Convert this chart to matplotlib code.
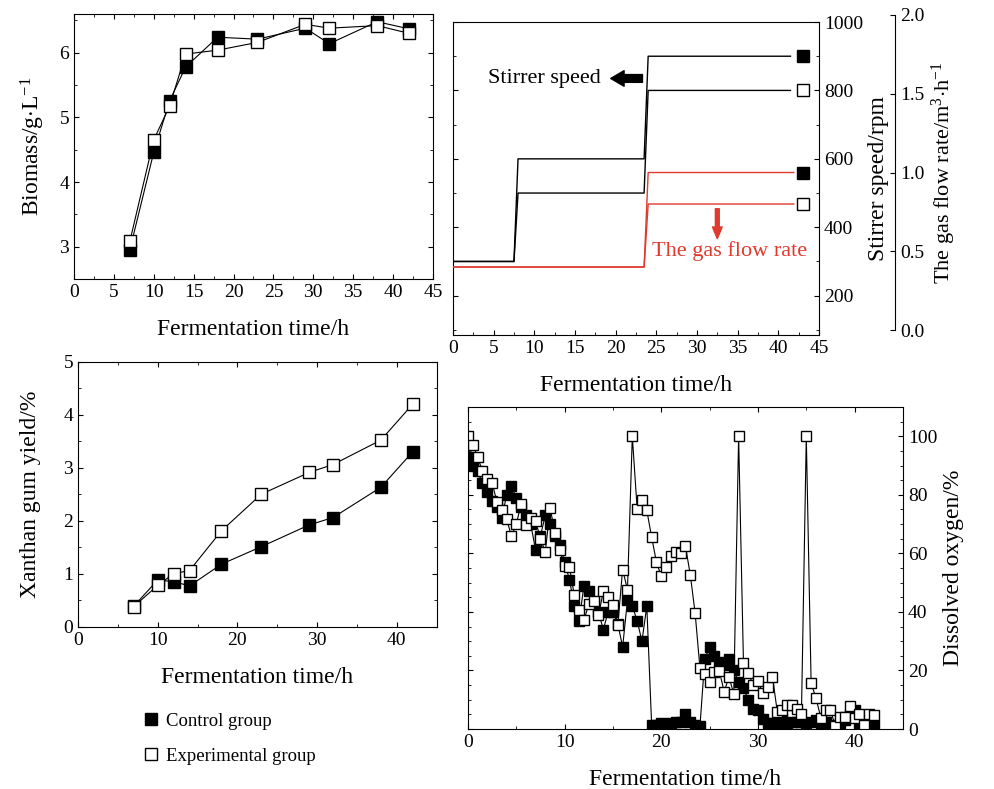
import matplotlib
matplotlib.use("Agg")
import matplotlib.pyplot as plt
from matplotlib.lines import Line2D
from matplotlib.ticker import MultipleLocator, FormatStrFormatter

plt.rcParams['font.family'] = ['Liberation Serif', 'DejaVu Serif']
plt.rcParams['mathtext.fontset'] = 'custom'
plt.rcParams['mathtext.rm'] = 'Liberation Serif'
plt.rcParams['mathtext.it'] = 'Liberation Serif:italic'
plt.rcParams['xtick.direction'] = 'in'
plt.rcParams['ytick.direction'] = 'in'
plt.rcParams['xtick.labelsize'] = 14
plt.rcParams['ytick.labelsize'] = 14
plt.rcParams['axes.labelsize'] = 17

# -----------------------------------
# Data
# -----------------------------------
sample_time = [7, 10, 12, 14, 18, 23, 29, 32, 38, 42]
biomass_control = [2.95, 4.46, 5.26, 5.78, 6.24, 6.21, 6.38, 6.14, 6.48, 6.37]
biomass_exp = [3.08, 4.65, 5.18, 5.98, 6.04, 6.16, 6.44, 6.38, 6.42, 6.30]

yield_control = [0.39, 0.88, 0.85, 0.77, 1.18, 1.51, 1.92, 2.06, 2.63, 3.30]
yield_exp = [0.38, 0.78, 1.00, 1.06, 1.81, 2.50, 2.91, 3.06, 3.52, 4.20]

step_time = [0, 7.5, 8, 23.5, 24, 41.5]
stirrer_control = [300, 300, 600, 600, 900, 900]
stirrer_exp = [300, 300, 500, 500, 800, 800]

gas_time = [0, 23.5, 24, 41.9]
gas_control = [0.4, 0.4, 1.0, 1.0]
gas_exp = [0.4, 0.4, 0.8, 0.8]

do_time = [i * 0.5 for i in range(85)]
do_control = [93, 90, 88, 84, 81, 78, 76, 72, 80, 83,
              79, 76, 73, 70, 61, 66, 73, 70, 66, 63,
              57, 51, 42, 37, 49, 47, 43, 40, 34, 40,
              40, 36, 28, 44, 42, 37, 30, 42, 1.5, 1.5,
              2, 1.5, 2, 2.5, 2.5, 5, 2.5, 1.5, 1, 24,
              28, 25, 23, 22, 24, 20, 16, 14, 10, 7,
              6.5, 3.5, 2, 2, 2, 3.5, 2, 2.5, 2.5, 2.5,
              2, 2.5, 3, 2, 2.5, 1, 1.5, 2, 3, 5,
              6.5, 2, 1.5, 4, 1.5]
do_exp = [100, 97, 93, 88, 85.5, 84, 77.6, 74.7, 71.6, 66,
          70, 77, 69.6, 72, 71, 65, 60.5, 75.5, 67, 61,
          55.6, 55.3, 45.7, 40.8, 37.2, 42.7, 43.6, 38.8, 47, 45,
          42.5, 35.6, 54.5, 47.6, 100, 75.3, 78.4, 74.7, 65.6, 57,
          52.2, 55.3, 59, 60.4, 60.2, 62.4, 52.7, 39.6, 20.8, 18.7,
          16, 19.4, 19.9, 12.8, 17.7, 12.1, 100, 22.7, 19, 15.2,
          16.4, 12.2, 14.5, 17.9, 5.9, 6.5, 8.2, 8.2, 6.7, 5.3,
          100, 15.6, 10.7, 3.9, 6.5, 6.5, 1, 4, 4, 7.9,
          3.6, 5.3, 1.4, 5.3, 4.8]

filled = dict(marker='s', mfc='black', mec='black', color='black', lw=0.8)
opened = dict(marker='s', mfc='white', mec='black', color='black', lw=0.8)

fig = plt.figure(figsize=(9.94, 7.89), dpi=100)

# -----------------------------------
# Biomass (top left)
# -----------------------------------
ax1 = fig.add_axes([0.0744, 0.6464, 0.3612, 0.3359])
ax1.plot(sample_time, biomass_control, ms=8, **filled)
ax1.plot(sample_time, biomass_exp, ms=8, **opened)
ax1.set_xlim(0, 45)
ax1.set_ylim(2.5, 6.6)
ax1.xaxis.set_major_locator(MultipleLocator(5))
ax1.xaxis.set_minor_locator(MultipleLocator(2.5))
ax1.yaxis.set_major_locator(MultipleLocator(1))
ax1.yaxis.set_minor_locator(MultipleLocator(0.5))
ax1.tick_params(which='both', top=True, right=True)
ax1.set_xlabel("Fermentation time/h", labelpad=13)
ax1.set_ylabel("Biomass/g$\\cdot$L$^{-1}$", labelpad=9)

# -----------------------------------
# Stirrer speed and gas flow (top right)
# -----------------------------------
ax2 = fig.add_axes([0.4557, 0.5754, 0.3682, 0.3967])
ax2.plot(step_time, stirrer_control, color='black', lw=1)
ax2.plot(step_time, stirrer_exp, color='black', lw=1)
ax2.plot([43], [stirrer_control[-1]], marker='s', ms=9, mfc='black', mec='black', ls='none')
ax2.plot([43], [stirrer_exp[-1]], marker='s', ms=9, mfc='white', mec='black', ls='none')
ax2.set_xlim(0, 45)
ax2.set_ylim(85, 1000)
ax2.xaxis.set_major_locator(MultipleLocator(5))
ax2.xaxis.set_minor_locator(MultipleLocator(2.5))
ax2.yaxis.set_major_locator(MultipleLocator(200))
ax2.yaxis.set_minor_locator(MultipleLocator(100))
ax2.tick_params(which='both', left=True, right=True, labelleft=False, labelright=True)
ax2.yaxis.set_label_position('right')
ax2.set_xlabel("Fermentation time/h", labelpad=13)
ax2.set_ylabel("Stirrer speed/rpm")
ax2.text(11.3, 835, "Stirrer speed", fontsize=16, ha='center', va='center')
ax2.annotate('', xy=(19.4, 835), xytext=(23.3, 835),
             arrowprops=dict(arrowstyle='simple,head_length=0.6,head_width=0.7,tail_width=0.35',
                             color='black', shrinkA=0, shrinkB=0, mutation_scale=16))

ax3 = fig.add_axes([0.4557, 0.5817, 0.4447, 0.3993])
ax3.patch.set_visible(False)
for side in ['left', 'top', 'bottom']:
    ax3.spines[side].set_visible(False)
red = '#e03a2e'
ax3.plot(gas_time, gas_control, color=red, lw=1)
ax3.plot(gas_time, gas_exp, color=red, lw=1)
ax3.plot([43], [gas_control[-1]], marker='s', ms=9, mfc='black', mec='black', ls='none')
ax3.plot([43], [gas_exp[-1]], marker='s', ms=9, mfc='white', mec='black', ls='none')
ax3.set_xlim(0, 45 * 442 / 366)
ax3.set_ylim(0, 2.0)
ax3.set_xticks([])
ax3.yaxis.tick_right()
ax3.yaxis.set_label_position('right')
ax3.yaxis.set_major_locator(MultipleLocator(0.5))
ax3.yaxis.set_major_formatter(FormatStrFormatter('%.1f'))
ax3.set_ylabel("The gas flow rate/m$^{3}$$\\cdot$h$^{-1}$", fontsize=16)
ax3.text(34.0, 0.5, "The gas flow rate", fontsize=16, color=red, ha='center', va='center')
ax3.annotate('', xy=(32.5, 0.58), xytext=(32.5, 0.77),
             arrowprops=dict(arrowstyle='simple,head_length=0.6,head_width=0.5,tail_width=0.2',
                             color=red, shrinkA=0, shrinkB=0, mutation_scale=14))

# -----------------------------------
# Xanthan gum yield (bottom left)
# -----------------------------------
ax4 = fig.add_axes([0.0785, 0.2057, 0.3608, 0.3359])
ax4.plot(sample_time, yield_control, ms=8, **filled)
ax4.plot(sample_time, yield_exp, ms=8, **opened)
ax4.set_xlim(0, 45)
ax4.set_ylim(0, 5)
ax4.xaxis.set_major_locator(MultipleLocator(10))
ax4.xaxis.set_minor_locator(MultipleLocator(5))
ax4.yaxis.set_major_locator(MultipleLocator(1))
ax4.yaxis.set_minor_locator(MultipleLocator(0.5))
ax4.tick_params(which='both', top=True, right=True)
ax4.set_xlabel("Fermentation time/h", labelpad=13)
ax4.set_ylabel("Xanthan gum yield/%", labelpad=16)

handles = [Line2D([], [], marker='s', ms=9, mfc='black', mec='black', ls='none'),
           Line2D([], [], marker='s', ms=9, mfc='white', mec='black', ls='none')]
fig.legend(handles, ["Control group", "Experimental group"], loc='upper left',
           bbox_to_anchor=(0.125, 0.118), frameon=False, fontsize=13.5,
           labelspacing=0.95, handletextpad=0.35, handlelength=1.0)

# -----------------------------------
# Dissolved oxygen (bottom right)
# -----------------------------------
ax5 = fig.add_axes([0.4708, 0.0760, 0.4376, 0.4081])
ax5.plot(do_time, do_control, ms=7.5, **filled)
ax5.plot(do_time, do_exp, ms=7.5, **opened)
ax5.set_xlim(0, 45)
ax5.set_ylim(0, 110)
ax5.xaxis.set_major_locator(MultipleLocator(10))
ax5.xaxis.set_minor_locator(MultipleLocator(5))
ax5.yaxis.set_major_locator(MultipleLocator(20))
ax5.yaxis.set_minor_locator(MultipleLocator(5))
ax5.tick_params(which='both', top=True, left=True, right=True,
                labelleft=False, labelright=True)
ax5.yaxis.set_label_position('right')
ax5.set_xlabel("Fermentation time/h", labelpad=13)
ax5.set_ylabel("Dissolved oxygen/%")

fig.savefig("out.png", dpi=100)
